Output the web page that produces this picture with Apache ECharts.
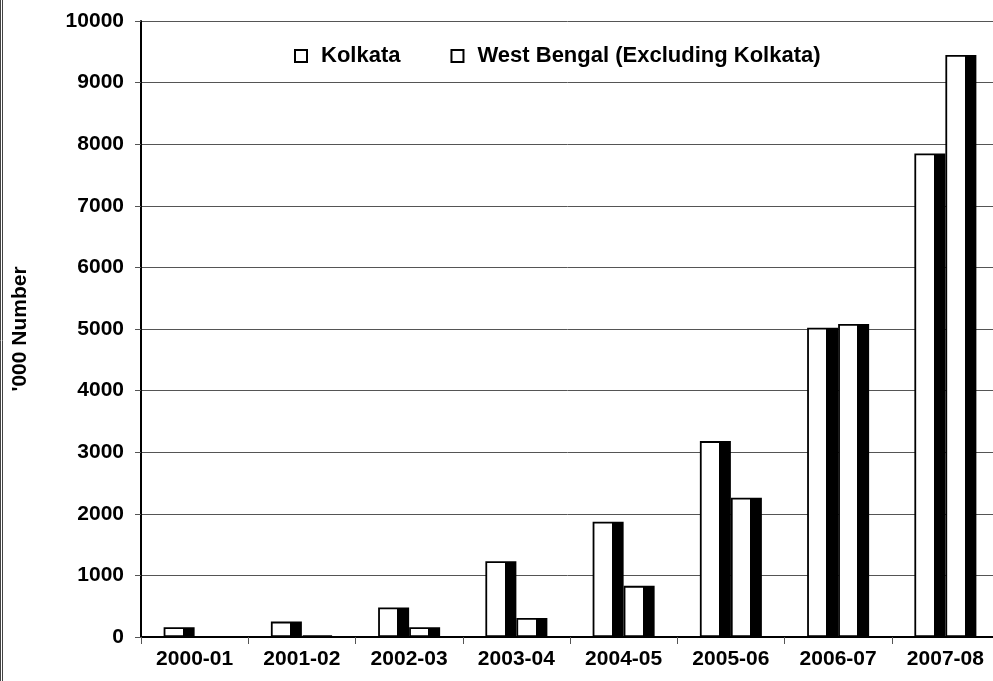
<!DOCTYPE html>
<html>
<head>
<meta charset="utf-8">
<style>
  html, body { margin: 0; padding: 0; background: #fff; }
  #chart { width: 993px; height: 681px; }
</style>
<script src="https://cdn.jsdelivr.net/npm/echarts@6/dist/echarts.min.js"></script>
</head>
<body>
<div id="chart"></div>
<script>
// Values in thousands.
var years = ['2000-01', '2001-02', '2002-03', '2003-04', '2004-05', '2005-06', '2006-07', '2007-08'];
var kolkata = [160, 250, 480, 1230, 1870, 3180, 5020, 7850];
var westBengal = [0, 25, 160, 310, 830, 2260, 5080, 9450];
var seriesNames = ['Kolkata', 'West Bengal (Excluding Kolkata)'];

var FONT = '"Liberation Sans", Arial, sans-serif';

// white front face with a black side, as in the old 3D-ish column style
function faceFill() {
    return new echarts.graphic.LinearGradient(0, 0, 1, 0, [
        { offset: 0, color: '#ffffff' },
        { offset: 0.62, color: '#ffffff' },
        { offset: 0.62, color: '#000000' },
        { offset: 1, color: '#000000' }
    ]);
}

function barSeries(name, values) {
    return {
        name: name,
        type: 'bar',
        data: values,
        barWidth: 31,
        barGap: '0%',
        itemStyle: { color: faceFill(), borderColor: '#000', borderWidth: 1.8 },
        emphasis: { disabled: true }
    };
}

var chart = echarts.init(document.getElementById('chart'), null, { renderer: 'canvas' });
chart.setOption({
    animation: false,
    backgroundColor: '#fff',
    grid: { left: 141, top: 21, right: -6, bottom: 44, outerBoundsMode: 'none' },
    legend: {
        top: 40,
        left: 289,
        itemWidth: 12,
        itemHeight: 12,
        itemGap: 50,
        icon: 'rect',
        data: [
            { name: seriesNames[0], itemStyle: { color: '#fff', borderColor: '#000', borderWidth: 2 } },
            { name: seriesNames[1], itemStyle: { color: '#fff', borderColor: '#000', borderWidth: 2 } }
        ],
        textStyle: { fontFamily: FONT, fontWeight: 'bold', fontSize: 22, color: '#000', padding: [0, 0, 0, 9] }
    },
    xAxis: {
        type: 'category',
        data: years,
        axisLine: { lineStyle: { color: '#000', width: 2 } },
        axisTick: { show: true, length: 7, lineStyle: { color: '#555' } },
        axisLabel: { fontFamily: FONT, fontWeight: 'bold', fontSize: 21, color: '#000', margin: 12 }
    },
    yAxis: {
        type: 'value',
        min: 0,
        max: 10000,
        interval: 1000,
        name: "'000 Number",
        nameLocation: 'middle',
        nameGap: 110,
        nameRotate: 90,
        nameTextStyle: { fontFamily: FONT, fontWeight: 'bold', fontSize: 21, color: '#000' },
        axisLine: { show: true, lineStyle: { color: '#000', width: 2 } },
        axisTick: { show: true, length: 6, lineStyle: { color: '#555' } },
        axisLabel: {
            fontFamily: FONT, fontWeight: 'bold', fontSize: 21, color: '#000', margin: 17,
            formatter: function (v) { return String(v); }
        },
        splitLine: { lineStyle: { color: '#555', width: 1 } }
    },
    graphic: [
        { type: 'line', shape: { x1: 0.5, y1: 0, x2: 0.5, y2: 681 }, style: { stroke: '#444', lineWidth: 1 } },
        { type: 'line', shape: { x1: 2.5, y1: 0, x2: 2.5, y2: 681 }, style: { stroke: '#444', lineWidth: 1 } }
    ],
    series: [
        barSeries(seriesNames[0], kolkata),
        barSeries(seriesNames[1], westBengal)
    ]
});
</script>
</body>
</html>
